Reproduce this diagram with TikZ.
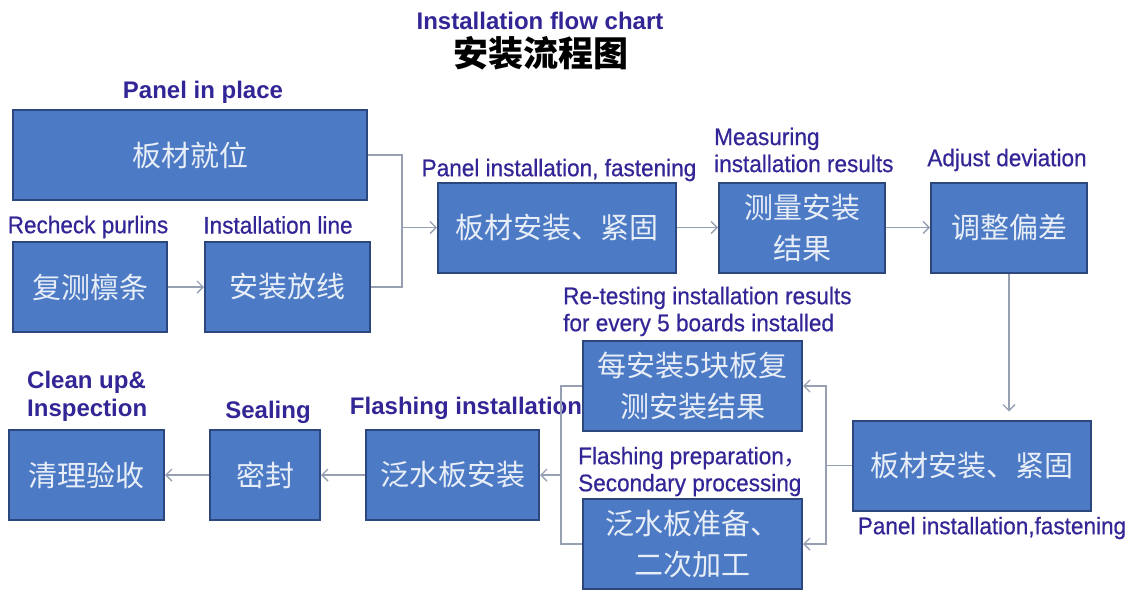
\documentclass[tikz,border=0pt]{standalone}
\usepackage{fontspec}
\setmainfont{Liberation Sans}
\newfontfamily\cjk{Noto Sans CJK SC}
\newfontfamily\narrowfont{Liberation Sans}[FakeStretch=0.94, FakeBold=0.6]
\usetikzlibrary{arrows.meta, positioning}
\definecolor{boxblue}{RGB}{76,122,196}
\definecolor{boxedge}{RGB}{44,70,126}
\definecolor{boxtext}{RGB}{232,238,248}
\definecolor{labelblue}{RGB}{50,38,150}
\definecolor{linkgray}{RGB}{150,160,178}
\tikzset{
  stepbox/.style={rectangle, draw=boxedge, line width=2pt, fill=boxblue,
    text=boxtext, minimum height=90pt, inner sep=0pt, align=center,
    font=\cjk\fontsize{29}{41}\selectfont},
  caption/.style={text=labelblue, inner sep=0pt, font=\narrowfont\fontsize{24}{27}\selectfont},
  boldcaption/.style={caption, font=\bfseries\fontsize{24}{28}\selectfont},
  link/.style={draw=linkgray, line width=1.4pt},
}

\begin{document}
\begin{tikzpicture}[x=1pt,y=-1pt,>={Straight Barb[length=6pt,width=12pt]}]
  \useasboundingbox (0,0) rectangle (1133,590);

  % title
  \node[boldcaption] (title) at (540,21) {Installation flow chart};
  \node[font=\cjk\bfseries\fontsize{35}{37}\selectfont] (titlecn) at (541,53) {安装流程图};

  % upper steps
  \node[stepbox, minimum width=154pt] (recheck) at (90,287)                     {复测檩条};
  \node[stepbox, minimum width=165pt] (line)    [right=36pt of recheck]         {安装放线};
  \node[stepbox, minimum width=354pt] (place)   [above right=40pt and 0pt of recheck.north west] {板材就位};
  \node[stepbox, minimum width=238pt] (fix)     at (557,227.5)                  {板材安装、紧固};
  \node[stepbox, minimum width=166pt] (measure) [right=41pt of fix]             {测量安装\\结果};
  \node[stepbox, minimum width=156pt] (adjust)  [right=44pt of measure]         {调整偏差};

  % lower steps
  \node[stepbox, minimum width=238pt] (fixtwo)  at (972,465.5)                  {板材安装、紧固};
  \node[stepbox, minimum width=219pt] (retest)  at (692.5,386)                  {每安装5块板复\\测安装结果};
  \node[stepbox, minimum width=219pt] (prep)    at (692.5,544)                  {泛水板准备、\\二次加工};
  \node[stepbox, minimum width=173pt] (flash)   at (452.5,475)                  {泛水板安装};
  \node[stepbox, minimum width=110pt] (seal)    [left=44pt of flash]            {密封};
  \node[stepbox, minimum width=155pt] (clean)   [left=44pt of seal]             {清理验收};

  % captions
  \node[boldcaption] (placelbl) at (203,92) {Panel in place};
  \node[caption] (rechecklbl) at (88,227)  {Recheck purlins};
  \node[caption] (linelbl)    at (278,225) {Installation line};
  \node[caption] (fixlbl)     at (559,170) {Panel installation, fastening};
  \node[caption, anchor=west, align=left] (measurelbl) at (714,150) {Measuring\\installation results};
  \node[caption] (adjustlbl)  at (1007,160) {Adjust deviation};
  \node[caption] (fixtwolbl)  at (992,528) {Panel installation,fastening};
  \node[caption, anchor=west, align=left] (retestlbl) at (563,311.5) {Re-testing installation results\\for every 5 boards installed};
  \node[caption, anchor=west, align=left] (preplbl) at (578,471.5) {Flashing preparation{\cjk ，}\\Secondary processing};
  \node[boldcaption, anchor=west, align=left] (cleanlbl) at (27,396) {Clean up\&\\Inspection};
  \node[boldcaption] (seallbl)  at (268,412) {Sealing};
  \node[boldcaption] (flashlbl) at (466,408) {Flashing installation};

  % connectors
  \coordinate[left=35pt of fix.west] (join);
  \coordinate[left=26pt of fixtwo.west] (split);
  \coordinate[right=21pt of flash.east] (merge);

  \draw[link] (place.east) -| (join) |- (line.east);
  \draw[link,->] (join) -- (fix.west);
  \draw[link,->] (recheck) -- (line);
  \draw[link,->] (fix) -- (measure);
  \draw[link,->] (measure) -- (adjust);
  \draw[link,->] (adjust.south) -- ([yshift=8pt]adjust.south |- fixtwo.north);
  \draw[link] (fixtwo.west) -- (split);
  \draw[link,->] (split) |- (retest.east);
  \draw[link,->] (split) |- (prep.east);
  \draw[link] (retest.west) -| (merge) |- (prep.west);
  \draw[link,->] (merge) -- (flash.east);
  \draw[link,->] (flash) -- (seal);
  \draw[link,->] (seal) -- (clean);
\end{tikzpicture}
\end{document}
